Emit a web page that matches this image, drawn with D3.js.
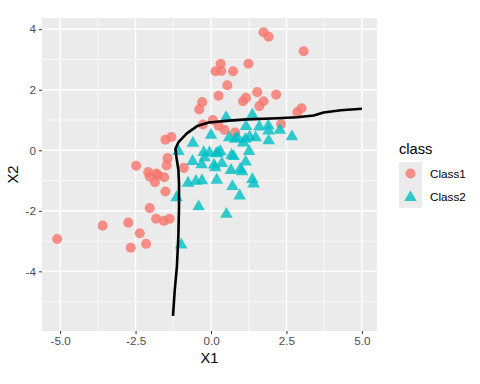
<!DOCTYPE html>
<html>
<head>
<meta charset="utf-8">
<script src="https://cdn.jsdelivr.net/npm/d3@7"></script>
<style>
  body { margin: 0; background: #fff; }
  svg { font-family: "Liberation Sans", Arial, sans-serif; }
</style>
</head>
<body>
<div id="chart"></div>
<script>
// class 1 points (x1, x2)
const class1 = [
  [-5.10, -2.93], [-3.59, -2.49], [-2.74, -2.39], [-2.66, -3.22], [-2.36, -2.74],
  [-2.15, -3.09], [-2.03, -1.91], [-1.82, -2.26], [-1.56, -2.33], [-1.37, -2.26],
  [-1.51, -1.36], [-2.48, -0.51], [-2.08, -0.72], [-2.03, -0.87], [-1.81, -0.77],
  [-1.76, -0.82], [-1.86, -1.05], [-1.55, -0.89], [-1.47, -0.50], [-1.44, -0.26],
  [-0.90, -0.58], [-1.51, 0.35], [-1.31, 0.44], [-0.39, 1.35], [-0.29, 1.59],
  [-0.27, 0.85], [0.06, 1.00], [0.25, 1.80], [0.15, 2.61], [0.34, 2.62],
  [0.32, 2.86], [0.54, 2.15], [0.73, 2.61], [1.24, 2.86], [1.74, 3.90],
  [1.91, 3.75], [3.07, 3.27], [1.53, 1.92], [2.16, 1.84], [1.16, 1.73],
  [1.06, 1.62], [1.74, 1.62], [1.60, 1.46], [3.00, 1.39], [2.86, 1.26],
  [0.25, 0.81], [0.45, 0.67], [0.80, 0.59], [2.32, 0.87]
];

// class 2 points (x1, x2)
const class2 = [
  [0.50, 1.12], [1.37, 1.20], [0.00, 0.53], [-0.60, 0.27], [0.60, 0.45],
  [1.16, 0.82], [1.60, 0.81], [1.90, 0.84], [2.28, 0.70], [2.68, 0.48],
  [1.91, 0.67], [1.91, 0.35], [1.28, 0.48], [1.48, 0.45], [1.07, 0.28],
  [0.88, 0.45], [0.80, 0.40], [1.14, 0.40], [1.26, 0.00], [-1.08, 0.00],
  [-0.24, -0.04], [-0.05, -0.05], [0.17, -0.08], [0.31, -0.01], [0.23, -0.05],
  [0.68, -0.13], [0.75, -0.17], [-0.21, -0.21], [-0.61, -0.33], [-0.31, -0.44],
  [0.10, -0.45], [0.14, -0.54], [0.36, -0.40], [1.15, -0.35], [0.66, -0.63],
  [0.97, -0.59], [1.03, -0.67], [-0.76, -1.05], [-0.50, -0.99], [-0.30, -0.97],
  [0.19, -0.95], [0.71, -1.16], [1.37, -0.93], [1.41, -1.08], [0.95, -1.47],
  [-0.41, -1.83], [0.51, -2.08], [-1.14, -1.53], [-0.99, -3.09]
];

// decision boundary
const boundary = [
  [-1.26, -5.47], [-1.20, -4.60], [-1.13, -3.84], [-1.08, -2.80], [-1.06, -1.86],
  [-1.06, -1.10], [-1.08, -0.65], [-1.15, -0.20], [-1.18, 0.05], [-1.07, 0.28],
  [-0.80, 0.56], [-0.46, 0.80], [-0.08, 0.92], [0.60, 0.98], [1.19, 1.02],
  [2.20, 1.06], [2.85, 1.09], [3.40, 1.15], [3.73, 1.25], [4.30, 1.32], [5.00, 1.37]
];

const xTicks = [-5, -2.5, 0, 2.5, 5];
const xMinor = [-3.75, -1.25, 1.25, 3.75];
const yTicks = [-4, -2, 0, 2, 4];
const yMinor = [-5, -3, -1, 1, 3];
const classes = ["Class1", "Class2"];
const colors = ["#F8766D", "#00BFC4"];

const width = 480, height = 384;
const margin = { top: 18, right: 103, bottom: 53, left: 42 };
const graphWidth = width - margin.left - margin.right;
const graphHeight = height - margin.top - margin.bottom;

const svg = d3.select('#chart')
  .append('svg')
  .attr('width', width)
  .attr('height', height);

const graph = svg.append('g')
  .attr('transform', `translate(${margin.left}, ${margin.top})`);

// scales
const x = d3.scaleLinear().domain([-5.6, 5.5]).range([0, graphWidth]);
const y = d3.scaleLinear().domain([-5.97, 4.37]).range([graphHeight, 0]);

// panel + grid
graph.append('rect')
  .attr('width', graphWidth)
  .attr('height', graphHeight)
  .attr('fill', '#EBEBEB');

graph.selectAll('line.xminor').data(xMinor).enter().append('line')
  .attr('x1', d => x(d)).attr('x2', d => x(d))
  .attr('y1', 0).attr('y2', graphHeight)
  .attr('stroke', '#fff').attr('stroke-width', 0.7);
graph.selectAll('line.yminor').data(yMinor).enter().append('line')
  .attr('y1', d => y(d)).attr('y2', d => y(d))
  .attr('x1', 0).attr('x2', graphWidth)
  .attr('stroke', '#fff').attr('stroke-width', 0.7);
graph.selectAll('line.xmajor').data(xTicks).enter().append('line')
  .attr('x1', d => x(d)).attr('x2', d => x(d))
  .attr('y1', 0).attr('y2', graphHeight)
  .attr('stroke', '#fff').attr('stroke-width', 1.4);
graph.selectAll('line.ymajor').data(yTicks).enter().append('line')
  .attr('y1', d => y(d)).attr('y2', d => y(d))
  .attr('x1', 0).attr('x2', graphWidth)
  .attr('stroke', '#fff').attr('stroke-width', 1.4);

// points
const circleSym = d3.symbol(d3.symbolCircle, 80);
const triSym = d3.symbol(d3.symbolTriangle, 68);

graph.selectAll('path.c1').data(class1).enter().append('path')
  .attr('d', circleSym)
  .attr('transform', d => `translate(${x(d[0])}, ${y(d[1])})`)
  .attr('fill', colors[0])
  .attr('fill-opacity', 0.8);

graph.selectAll('path.c2').data(class2).enter().append('path')
  .attr('d', triSym)
  .attr('transform', d => `translate(${x(d[0])}, ${y(d[1]) + 1})`)
  .attr('fill', colors[1])
  .attr('fill-opacity', 0.8);

// boundary line
const line = d3.line().x(d => x(d[0])).y(d => y(d[1])).curve(d3.curveLinear);
graph.append('path')
  .datum(boundary)
  .attr('d', line)
  .attr('fill', 'none')
  .attr('stroke', '#000')
  .attr('stroke-width', 2.6)
  .attr('stroke-linejoin', 'round');

// axes
const xAxisGroup = graph.append('g')
  .attr('transform', `translate(0, ${graphHeight})`)
  .call(d3.axisBottom(x).tickValues(xTicks).tickSize(3).tickPadding(3).tickFormat(d => d.toFixed(1)));
const yAxisGroup = graph.append('g')
  .call(d3.axisLeft(y).tickValues(yTicks).tickSize(3).tickPadding(3).tickFormat(d => String(d)));

[xAxisGroup, yAxisGroup].forEach(g => {
  g.select('path.domain').remove();
  g.selectAll('line').attr('stroke', '#333').attr('stroke-width', 1);
  g.selectAll('text')
    .attr('fill', '#4D4D4D')
    .style('font-size', '11.7px')
    .style('font-family', '"Liberation Sans", Arial, sans-serif');
});

// axis titles
svg.append('text')
  .attr('x', margin.left + graphWidth / 2)
  .attr('y', 363)
  .attr('text-anchor', 'middle')
  .style('font-size', '14.7px')
  .text('X1');

svg.append('text')
  .attr('transform', `translate(18, ${margin.top + graphHeight / 2}) rotate(-90)`)
  .attr('text-anchor', 'middle')
  .style('font-size', '14.7px')
  .text('X2');

// legend
const legend = svg.append('g').attr('transform', 'translate(399, 0)');
legend.append('text')
  .attr('x', 0).attr('y', 154)
  .style('font-size', '14.7px')
  .text('class');

const keys = legend.selectAll('g.key').data(classes).enter().append('g')
  .attr('transform', (d, i) => `translate(0, ${162 + i * 23})`);
keys.append('rect')
  .attr('width', 23).attr('height', 23)
  .attr('fill', '#EBEBEB');
keys.append('path')
  .attr('d', (d, i) => i === 0 ? circleSym() : triSym())
  .attr('transform', (d, i) => `translate(11.5, ${i === 0 ? 11.5 : 12.5})`)
  .attr('fill', (d, i) => colors[i])
  .attr('fill-opacity', 0.8);
keys.append('text')
  .attr('x', 31).attr('y', 16)
  .style('font-size', '11.7px')
  .attr('fill', '#000')
  .text(d => d);
</script>
</body>
</html>
